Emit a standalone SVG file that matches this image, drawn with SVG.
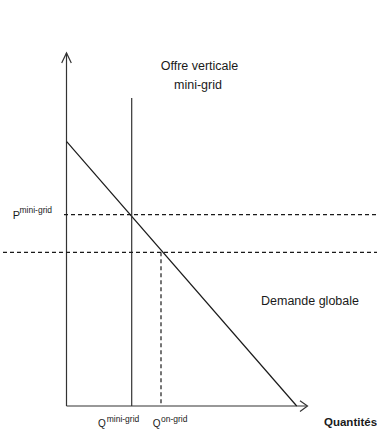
<svg xmlns="http://www.w3.org/2000/svg" width="377" height="439" viewBox="0 0 377 439">
<style>
  .ln { stroke: #1a1a1a; stroke-width: 1.2; fill: none; }
  .ax { stroke: #333; stroke-width: 1.2; fill: none; }
  .dash { stroke: #1a1a1a; stroke-width: 1.2; fill: none; stroke-dasharray: 4 3; }
  text { font-family: "Liberation Sans", Arial, sans-serif; fill: #1a1a1a; }
  .lbl { font-size: 12.5px; }
  .sup { font-size: 8.5px; }
</style>
<rect width="377" height="439" fill="#fff"/>
<g id="connectors">
  <!-- axes -->
  <path class="ax" d="M66.5,406 V53"/>
  <path class="ax" d="M61.7,63 L66.5,53 L71.3,63"/>
  <path class="ax" d="M66.5,406 H307"/>
  <path class="ax" d="M300,400.7 L307.5,406 L300,411.5"/>
  <!-- demand -->
  <path class="ln" d="M66.7,141.7 L296.7,406"/>
  <!-- vertical supply -->
  <path class="ax" d="M131.7,98 V406"/>
  <!-- dashed lines -->
  <path class="dash" d="M64,214.7 H377"/>
  <path class="dash" d="M3,252.3 H377"/>
  <path class="dash" d="M161,252.3 V406"/>
</g>
<g id="label-offre">
  <text class="lbl" x="199.5" y="70" text-anchor="middle">Offre verticale</text>
  <text class="lbl" x="198" y="89.3" text-anchor="middle">mini-grid</text>
</g>
<g id="label-p">
  <text x="12.7" y="219" font-size="11">P</text>
  <text class="sup" x="19.5" y="213">mini-grid</text>
</g>
<g id="label-demande">
  <text class="lbl" x="261" y="305">Demande globale</text>
</g>
<g id="label-qmini">
  <text x="98" y="427" font-size="10">Q</text>
  <text class="sup" x="106.7" y="421.5">mini-grid</text>
</g>
<g id="label-qon">
  <text x="152.7" y="427" font-size="10">Q</text>
  <text class="sup" x="161" y="421.5">on-grid</text>
</g>
<g id="label-quantites">
  <text x="324" y="425.7" font-size="11.5" font-weight="bold">Quantités</text>
</g>
</svg>
